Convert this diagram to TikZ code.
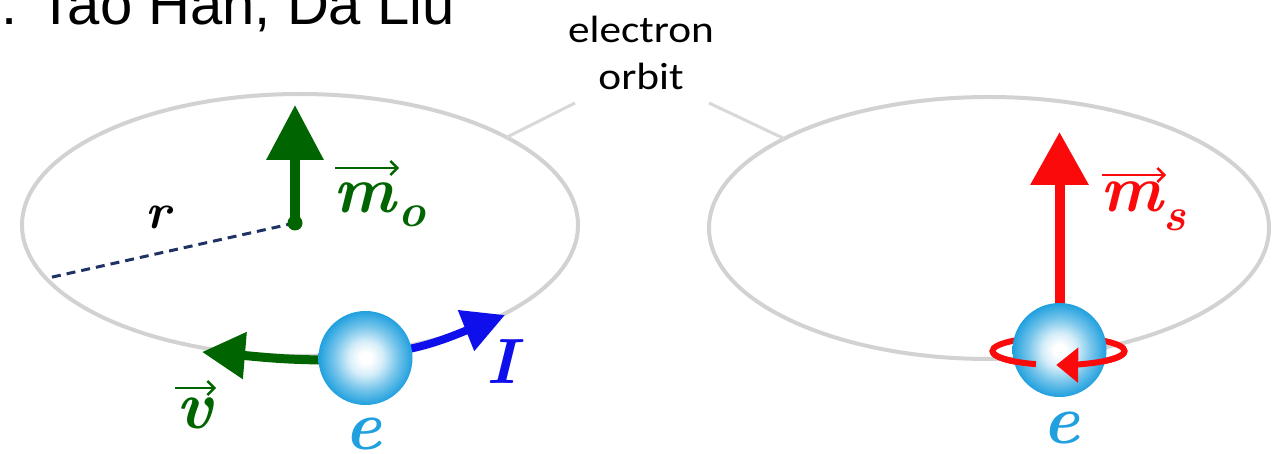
\documentclass[tikz,border=0pt]{standalone}
\usepackage{fontspec}
\newfontfamily\orbitfont[FakeStretch=1.14]{Carlito}
\newfontfamily\authorfont{Liberation Sans}
\usetikzlibrary{arrows.meta,calc}

\definecolor{orbitgrey}{RGB}{210,210,210}
\definecolor{leadgrey}{RGB}{216,216,216}
\definecolor{momgreen}{RGB}{0,100,0}
\definecolor{curblue}{RGB}{15,15,235}
\definecolor{spinred}{RGB}{250,10,10}
\definecolor{ecyan}{RGB}{32,160,222}
\definecolor{radnavy}{RGB}{30,50,100}
\colorlet{ecyanmid}{ecyan!62!white}
\colorlet{ecyanlight}{ecyan!18!white}

% bright core fading to the sky-blue rim of the electron
\pgfdeclareradialshading{esphere}{\pgfpoint{0bp}{0bp}}{%
  color(0bp)=(white); color(3bp)=(white); color(9bp)=(ecyanlight);
  color(17bp)=(ecyanmid); color(25bp)=(ecyan); color(50bp)=(ecyan)}

\newcommand\symbi[1]{{\bfseries\itshape #1}}

\begin{document}
\begin{tikzpicture}[x=1pt,y=-1pt,
  orbitline/.style={draw=orbitgrey, line width=4pt},
  leader/.style={draw=leadgrey, line width=3pt},
  electron/.style={circle, inner sep=0pt, minimum size=94pt, shade, shading=esphere},
  ring/.style={draw=spinred, line width=6pt},
  mathlbl/.style={inner sep=0pt},
  overarrow/.style={line width=2.4pt, -{Straight Barb[length=7pt,width=14pt,line width=2.4pt]}}
]
\useasboundingbox (0,0) rectangle (1284,454);
\clip (0,0) rectangle (1284,454);

% authors line, partly above the frame
\node[anchor=base west, inner sep=0pt, font=\authorfont\fontsize{58}{60}\selectfont]
  (authors) at (1,25) {: Tao Han, Da Liu};

% the two orbits
\coordinate (oL) at (300,225);
\coordinate (oR) at (989,228);
\draw[orbitline] (oL) ellipse [x radius=278pt, y radius=131pt];
\draw[orbitline] (oR) ellipse [x radius=280pt, y radius=131pt];

% caption and its leader lines
\node[anchor=base, inner sep=0pt, font=\orbitfont\fontsize{38}{47}\selectfont] (capA) at (641,43) {electron};
\node[anchor=base, inner sep=0pt, font=\orbitfont\fontsize{38}{47}\selectfont] (capB) at (641,90) {orbit};
\coordinate (leadL0) at (575,103);
\coordinate (leadR0) at (709,103);
\coordinate (leadL1) at ($(oL)+(42:278pt and 131pt)$);
\coordinate (leadR1) at ($(oR)+(137:280pt and 131pt)$);
\draw[leader] (leadL0) -- (leadL1);
\draw[leader] (leadR0) -- (leadR1);

% orbital moment and radius
\coordinate (mo0) at (295,223);
\coordinate (motip) at (295,105);
\coordinate (rend) at (48,278);
\draw[draw=radnavy, line width=3pt, dash pattern=on 9pt off 6pt] (mo0) -- (rend);
\draw[draw=momgreen, line width=10pt, -{Triangle[length=55pt,width=55pt]}] (mo0) -- (motip);
\fill[momgreen] (mo0) circle [radius=7.5pt];
\node[mathlbl, font=\fontsize{50}{54}\selectfont] (rlbl) at (158,217) {\symbi{r}};
\node[mathlbl, anchor=base west, text=momgreen, font=\fontsize{66}{70}\selectfont] (molbl) at (333,213)
  {\symbi{m}\kern3pt\raisebox{-14pt}{\fontsize{46}{50}\selectfont\symbi{o}}};
\coordinate (moarA) at (335,168);
\coordinate (moarB) at (399,168);
\draw[overarrow, draw=momgreen] (moarA) -- (moarB);

% velocity and current of the orbiting electron
\coordinate (vstart) at (332,360);
\coordinate (vtip) at (202,352);
\coordinate (istart) at (398,351);
\coordinate (itip) at (505,315);
\draw[draw=momgreen, line width=9pt, -{Triangle[length=43pt,width=45pt]}]
  (vstart) .. controls (285,360) and (262,357) .. (vtip);
\draw[draw=curblue, line width=8pt, -{Triangle[length=42pt,width=42pt]}]
  (istart) .. controls (430,346) and (455,335) .. (itip);
\node[electron] (eL) at (365.5,358) {};
\node[mathlbl, text=momgreen, font=\fontsize{68}{72}\selectfont] (vlbl) at (195,413) {\symbi{v}};
\coordinate (varA) at (175,388);
\coordinate (varB) at (216,388);
\draw[overarrow, draw=momgreen] (varA) -- (varB);
\node[mathlbl, text=curblue, font=\fontsize{64}{68}\selectfont] (ilbl) at (502,362) {\symbi{I}};
\node[mathlbl, text=ecyan, font=\fontsize{70}{74}\selectfont] (elblL) at (363,434) {\symbi{e}};

% spinning electron with its spin moment
\coordinate (ringc) at (1058.5,351);
\coordinate (ms0) at (1059.5,318);
\coordinate (mstip) at (1059.5,132);
\draw[draw=spinred, line width=10pt, -{Triangle[length=53pt,width=56pt]}] (ms0) -- (mstip);
\draw[ring] (ringc) ellipse [x radius=66pt, y radius=14pt];
\node[electron] (eR) at (1059.5,350) {};
\draw[ring] ($(ringc)+(180:66pt and 14pt)$) arc [start angle=180, end angle=250, x radius=66pt, y radius=14pt];
\draw[ring, -{Triangle[length=22pt,width=34pt]}]
  ($(ringc)+(0:66pt and 14pt)$) arc [start angle=360, end angle=268, x radius=66pt, y radius=14pt];
\node[mathlbl, anchor=base west, text=spinred, font=\fontsize{66}{70}\selectfont] (mslbl) at (1100,212)
  {\symbi{m}\kern1pt\raisebox{-19pt}{\fontsize{46}{50}\selectfont\symbi{s}}};
\coordinate (msarA) at (1102,175);
\coordinate (msarB) at (1166,175);
\draw[overarrow, draw=spinred] (msarA) -- (msarB);
\node[mathlbl, text=ecyan, font=\fontsize{70}{74}\selectfont] (elblR) at (1061,428) {\symbi{e}};
\end{tikzpicture}
\end{document}
